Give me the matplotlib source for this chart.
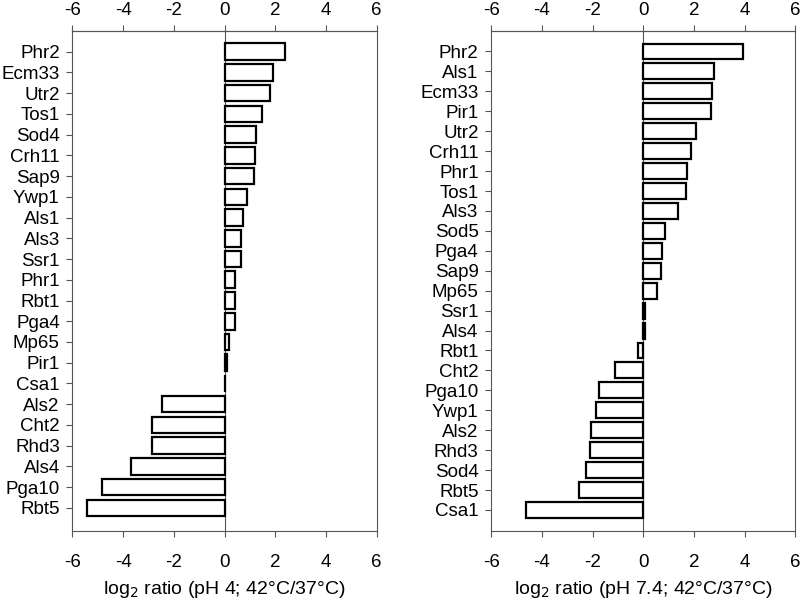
import numpy as np
import matplotlib.pyplot as plt

plt.rcParams['font.family'] = ['Liberation Sans', 'DejaVu Sans']
plt.rcParams['axes.unicode_minus'] = False

# pH 4 panel, top to bottom
genes_ph4 = ["Phr2", "Ecm33", "Utr2", "Tos1", "Sod4", "Crh11", "Sap9", "Ywp1",
             "Als1", "Als3", "Ssr1", "Phr1", "Rbt1", "Pga4", "Mp65", "Pir1",
             "Csa1", "Als2", "Cht2", "Rhd3", "Als4", "Pga10", "Rbt5"]
vals_ph4 = [2.37, 1.93, 1.78, 1.46, 1.25, 1.20, 1.16, 0.87,
            0.71, 0.65, 0.63, 0.43, 0.43, 0.41, 0.19, 0.08,
            0.0, -2.46, -2.84, -2.87, -3.67, -4.83, -5.42]

# pH 7.4 panel, top to bottom
genes_ph74 = ["Phr2", "Als1", "Ecm33", "Pir1", "Utr2", "Crh11", "Phr1", "Tos1",
              "Als3", "Sod5", "Pga4", "Sap9", "Mp65", "Ssr1", "Als4", "Rbt1",
              "Cht2", "Pga10", "Ywp1", "Als2", "Rhd3", "Sod4", "Rbt5", "Csa1"]
vals_ph74 = [3.95, 2.79, 2.72, 2.67, 2.09, 1.89, 1.71, 1.68,
             1.37, 0.86, 0.75, 0.72, 0.56, 0.07, 0.08, -0.21,
             -1.10, -1.75, -1.86, -2.05, -2.09, -2.25, -2.55, -4.62]

fig = plt.figure(figsize=(8, 6.04), dpi=100)
ax1 = fig.add_axes([0.0904, 0.1204, 0.3805, 0.828])
ax2 = fig.add_axes([0.614, 0.1204, 0.380, 0.828])

def panel(ax, genes, vals, xlabel, lo, hi):
    n = len(genes)
    y = np.arange(n)[::-1]
    ax.barh(y, vals, height=0.8, color='white', edgecolor='black', linewidth=1.6, zorder=3)
    ax.axvline(0, color='#555555', linewidth=0.8, zorder=2)
    ax.set_xlim(-6, 6)
    ax.set_ylim(lo, n - 1 + hi)
    ax.set_yticks(y)
    ax.set_yticklabels(genes, fontsize=13.5)
    ticks = np.arange(-6, 7, 2)
    ax.set_xticks(ticks)
    ax.tick_params(axis='x', direction='out', length=4, width=0.8, color='#555555',
                   labelsize=13.5, pad=12)
    ax.tick_params(axis='y', direction='out', length=4, width=0.8, color='#555555', pad=5)
    # top axis with its own padding
    top = ax.secondary_xaxis('top')
    top.set_xticks(ticks)
    top.tick_params(direction='out', length=4, width=0.8, color='#555555',
                    labelsize=13.5, pad=5)
    top.spines['top'].set_color('#555555')
    top.spines['top'].set_linewidth(0.8)
    for s in ax.spines.values():
        s.set_color('#555555')
        s.set_linewidth(0.8)
    ax.set_xlabel(xlabel, fontsize=14, labelpad=6)

panel(ax1, genes_ph4, vals_ph4, r"log$_2$ ratio (pH 4; 42°C/37°C)", -1.13, 0.99)
panel(ax2, genes_ph74, vals_ph74, r"log$_2$ ratio (pH 7.4; 42°C/37°C)", -1.07, 1.02)

fig.savefig("out.png", dpi=100)
